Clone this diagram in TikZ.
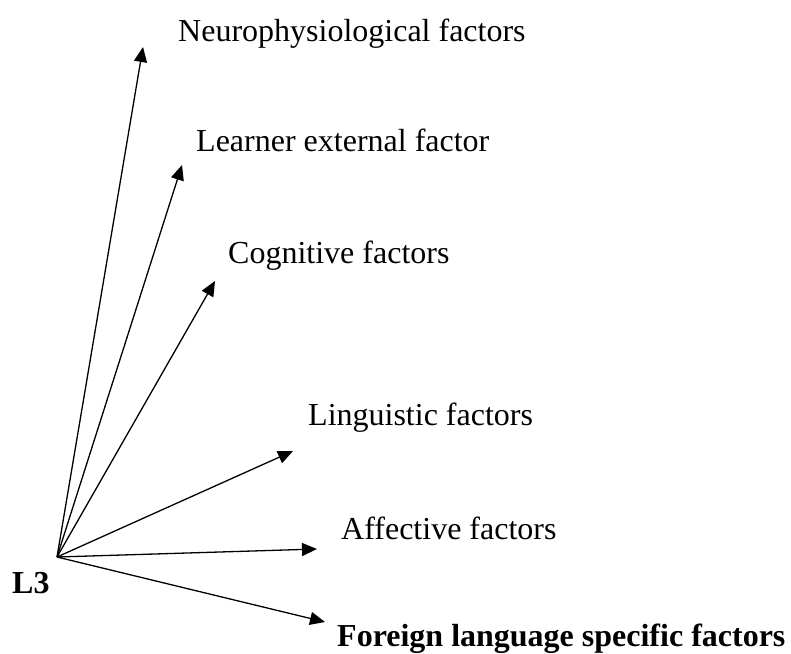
\documentclass[tikz,border=0pt]{standalone}
\usepackage{fontspec}
\setmainfont{Liberation Serif}
\usetikzlibrary{arrows.meta}
\begin{document}
\begin{tikzpicture}[x=1pt,y=-1pt,
  conn/.style={line width=1.3pt,-{Triangle[length=15pt,width=13pt]}},
  lbl/.style={anchor=base west,inner sep=0pt,font=\fontsize{32}{38}\selectfont},
  blbl/.style={lbl,font=\fontsize{32}{38}\selectfont\bfseries}]
\useasboundingbox (0,0) rectangle (791,653);
\coordinate (o) at (57,557);
\coordinate (t1) at (143,47);
\coordinate (t2) at (182,165);
\coordinate (t3) at (215,281);
\coordinate (t4) at (293,451);
\coordinate (t5) at (317,549);
\coordinate (t6) at (325,622);
\draw[conn] (o) -- (t1);
\draw[conn] (o) -- (t2);
\draw[conn] (o) -- (t3);
\draw[conn] (o) -- (t4);
\draw[conn] (o) -- (t5);
\draw[conn] (o) -- (t6);
\node[lbl] (n1) at (178,41) {Neurophysiological factors};
\node[lbl] (n2) at (196,151) {Learner external factor};
\node[lbl] (n3) at (228,263) {Cognitive factors};
\node[lbl] (n4) at (308,425) {Linguistic factors};
\node[lbl] (n5) at (341,539) {Affective factors};
\node[blbl] (n6) at (337,646) {Foreign language specific factors};
\node[blbl] (l3) at (12,593) {L3};
\end{tikzpicture}
\end{document}
